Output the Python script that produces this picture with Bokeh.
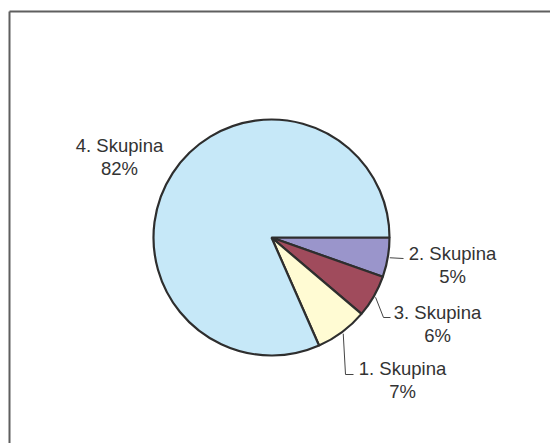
from bokeh.plotting import figure
from bokeh.models import Range1d, ColumnDataSource
from bokeh.core.properties import value
from bokeh.embed import file_html
from bokeh.resources import INLINE
import math

# Data (clockwise from 3 o'clock)
categories = ["2. Skupina", "3. Skupina", "1. Skupina", "4. Skupina"]
values = [5.4, 5.8, 7.2, 81.6]
colors = ["#9A95CB", "#A04B5C", "#FFFBD3", "#C6E8F8"]

W, H = 550, 443
p = figure(width=W, height=H, x_range=Range1d(0, W), y_range=Range1d(0, H),
           output_backend="svg", toolbar_location=None, min_border=0)
p.axis.visible = False
p.grid.visible = False
p.outline_line_color = None
p.background_fill_color = "white"
p.border_fill_color = "white"

def Y(py):
    return H - py

# Chart area frame (left/top visible)
p.segment(x0=[9, 9], y0=[Y(11), Y(11)], x1=[9, W + 5], y1=[Y(H + 5), Y(11)],
          line_color="#5f5f5f", line_width=2)

cx, cy, R = 271, Y(237), 118
total = sum(values)
starts, ends, mids = [], [], []
cum = 0.0
for v in values:
    a0 = -cum / total * 2 * math.pi
    cum += v
    a1 = -cum / total * 2 * math.pi
    starts.append(a1)
    ends.append(a0)
    mids.append((a0 + a1) / 2)

src = ColumnDataSource(dict(start=starts, end=ends, color=colors))
p.wedge(x=cx, y=cy, radius=R, start_angle="start", end_angle="end",
        fill_color="color", line_color="#2e2e2e", line_width=2.2, source=src)

# Labels: layout per slice (px)
label_pos = {
    "2. Skupina": (452, 253),
    "3. Skupina": (437, 312),
    "1. Skupina": (402, 368),
    "4. Skupina": (119, 145),
}
leaders = {
    "2. Skupina": [(403, 258)],
    "3. Skupina": [(383, 317), (390, 317)],
    "1. Skupina": [(345, 374), (353, 374)],
}

tx, ty, tt = [], [], []
for cat, v, m in zip(categories, values, mids):
    lx, ly = label_pos[cat]
    tx += [lx, lx]
    ty += [Y(ly), Y(ly + 23)]
    tt += [cat, f"{round(v)}%"]
    if cat in leaders:
        sx = cx + (R + 2) * math.cos(m)
        sy = cy + (R + 2) * math.sin(m)
        xs = [sx] + [q[0] for q in leaders[cat]]
        ys = [sy] + [Y(q[1]) for q in leaders[cat]]
        p.line(xs, ys, line_color="#444444", line_width=1)

p.text(x=tx, y=ty, text=tt, text_font=value("Liberation Sans"),
       text_font_size="18.5px", text_align="center", text_baseline="alphabetic",
       text_color="#333333")

open("out.html", "w").write(file_html(p, INLINE))
